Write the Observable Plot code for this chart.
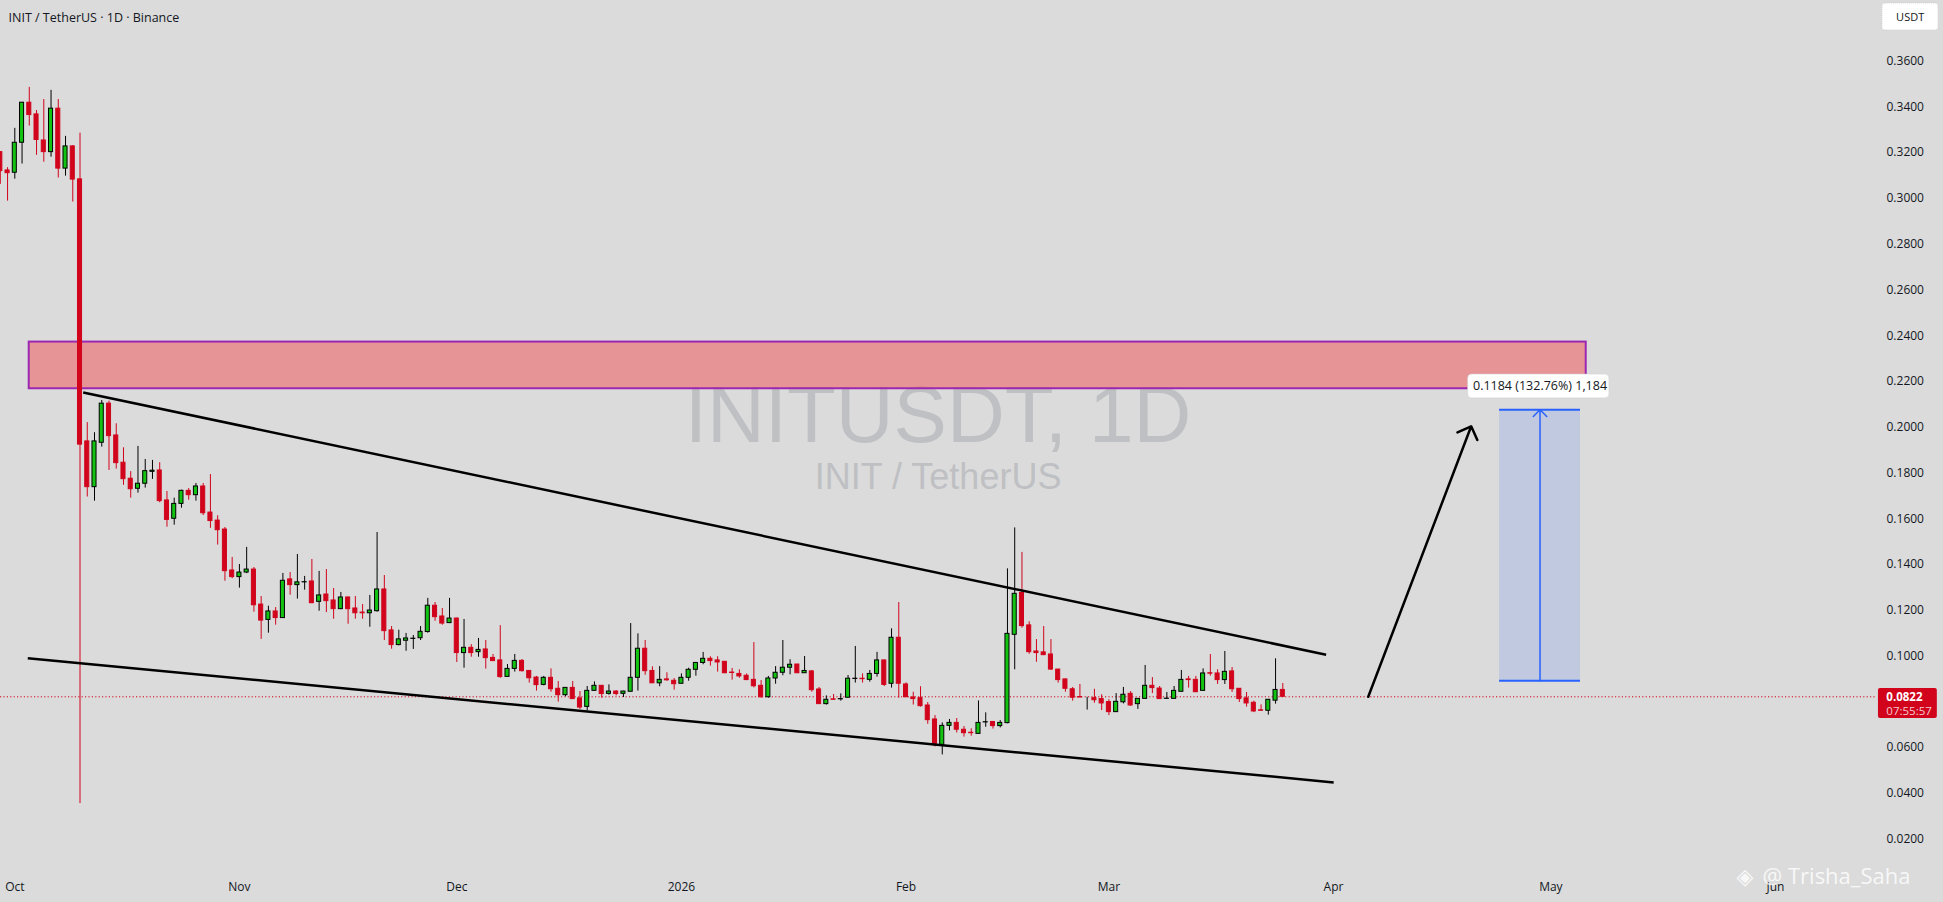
<!DOCTYPE html>
<html><head><meta charset="utf-8">
<script src="https://cdn.jsdelivr.net/npm/d3@7"></script>
<script src="https://cdn.jsdelivr.net/npm/@observablehq/plot@0.6"></script>
<style>
html,body{margin:0;padding:0;background:#dbdbdb;}
#chart{width:1943px;height:902px;overflow:hidden;}
</style></head><body><div id="chart"></div>
<script>
// ---------- data ----------
const dates = [
"2025-09-29","2025-09-30",
"2025-10-01","2025-10-02","2025-10-03","2025-10-04","2025-10-05","2025-10-06","2025-10-07","2025-10-08","2025-10-09","2025-10-10",
"2025-10-11","2025-10-12","2025-10-13","2025-10-14","2025-10-15","2025-10-16","2025-10-17","2025-10-18","2025-10-19","2025-10-20",
"2025-10-21","2025-10-22","2025-10-23","2025-10-24","2025-10-25","2025-10-26","2025-10-27","2025-10-28","2025-10-29","2025-10-30","2025-10-31",
"2025-11-01","2025-11-02","2025-11-03","2025-11-04","2025-11-05","2025-11-06","2025-11-07","2025-11-08","2025-11-09","2025-11-10",
"2025-11-11","2025-11-12","2025-11-13","2025-11-14","2025-11-15","2025-11-16","2025-11-17","2025-11-18","2025-11-19","2025-11-20",
"2025-11-21","2025-11-22","2025-11-23","2025-11-24","2025-11-25","2025-11-26","2025-11-27","2025-11-28","2025-11-29","2025-11-30",
"2025-12-01","2025-12-02","2025-12-03","2025-12-04","2025-12-05","2025-12-06","2025-12-07","2025-12-08","2025-12-09","2025-12-10",
"2025-12-11","2025-12-12","2025-12-13","2025-12-14","2025-12-15","2025-12-16","2025-12-17","2025-12-18","2025-12-19","2025-12-20",
"2025-12-21","2025-12-22","2025-12-23","2025-12-24","2025-12-25","2025-12-26","2025-12-27","2025-12-28","2025-12-29","2025-12-30","2025-12-31",
"2026-01-01","2026-01-02","2026-01-03","2026-01-04","2026-01-05","2026-01-06","2026-01-07","2026-01-08","2026-01-09","2026-01-10",
"2026-01-11","2026-01-12","2026-01-13","2026-01-14","2026-01-15","2026-01-16","2026-01-17","2026-01-18","2026-01-19","2026-01-20",
"2026-01-21","2026-01-22","2026-01-23","2026-01-24","2026-01-25","2026-01-26","2026-01-27","2026-01-28","2026-01-29","2026-01-30","2026-01-31",
"2026-02-01","2026-02-02","2026-02-03","2026-02-04","2026-02-05","2026-02-06","2026-02-07","2026-02-08","2026-02-09","2026-02-10",
"2026-02-11","2026-02-12","2026-02-13","2026-02-14","2026-02-15","2026-02-16","2026-02-17","2026-02-18","2026-02-19","2026-02-20",
"2026-02-21","2026-02-22","2026-02-23","2026-02-24","2026-02-25","2026-02-26","2026-02-27","2026-02-28",
"2026-03-01","2026-03-02","2026-03-03","2026-03-04","2026-03-05","2026-03-06","2026-03-07","2026-03-08","2026-03-09","2026-03-10",
"2026-03-11","2026-03-12","2026-03-13","2026-03-14","2026-03-15","2026-03-16","2026-03-17","2026-03-18","2026-03-19","2026-03-20",
"2026-03-21","2026-03-22","2026-03-23","2026-03-24","2026-03-25"
];
const opens = [
0.3202,0.3122,
0.3112,0.3243,0.3418,0.3367,0.3253,0.3202,0.3392,0.3130,0.3227,0.3083,0.1938,0.1738,0.1932,0.2103,0.1964,0.1845,0.1775,0.1731,0.1753,0.1805,0.1811,0.1680,0.1600,0.1665,0.1722,0.1703,0.1741,0.1627,0.1592,0.1553,0.1374,
0.1345,0.1365,0.1378,0.1225,0.1158,0.1195,0.1166,0.1335,0.1310,0.1322,0.1326,0.1237,0.1269,0.1243,0.1205,0.1256,0.1208,0.1190,0.1187,0.1196,0.1291,0.1112,0.1048,0.1067,0.1075,0.1078,0.1105,0.1220,0.1173,0.1144,
0.1164,0.1013,0.1036,0.1017,0.1029,0.0992,0.0981,0.0909,0.0944,0.0979,0.0935,0.0906,0.0874,0.0905,0.0857,0.0829,0.0861,0.0815,0.0778,0.0848,0.0870,0.0835,0.0845,0.0835,0.0844,0.0905,0.1032,0.0935,0.0881,0.0898,0.0892,
0.0879,0.0905,0.0940,0.0970,0.0988,0.0981,0.0975,0.0928,0.0922,0.0914,0.0896,0.0870,0.0820,0.0902,0.0927,0.0949,0.0963,0.0925,0.0933,0.0854,0.0790,0.0811,0.0811,0.0818,0.0900,0.0901,0.0896,0.0922,0.0981,0.0879,0.1080,
0.0876,0.0819,0.0816,0.0784,0.0723,0.0612,0.0695,0.0708,0.0678,0.0665,0.0660,0.0710,0.0712,0.0694,0.0707,0.1093,0.1276,0.1134,0.1020,0.1016,0.1007,0.0941,0.0898,0.0855,0.0821,0.0819,0.0816,0.0812,
0.0799,0.0755,0.0798,0.0835,0.0790,0.0813,0.0870,0.0858,0.0813,0.0813,0.0844,0.0898,0.0896,0.0848,0.0925,0.0924,0.0895,0.0933,0.0857,0.0815,0.0796,0.0763,0.0761,0.0805,0.0852
];
const highs = [
0.3204,0.3134,
0.3306,0.3418,0.3485,0.3384,0.3432,0.3472,0.3432,0.3271,0.3231,0.3285,0.2020,0.1976,0.2117,0.2114,0.2015,0.1910,0.1806,0.1916,0.1859,0.1855,0.1845,0.1719,0.1690,0.1725,0.1732,0.1754,0.1754,0.1793,0.1613,0.1562,0.1431,
0.1400,0.1475,0.1387,0.1260,0.1218,0.1212,0.1361,0.1365,0.1444,0.1348,0.1422,0.1370,0.1378,0.1295,0.1278,0.1258,0.1260,0.1225,0.1265,0.1540,0.1352,0.1129,0.1113,0.1099,0.1090,0.1129,0.1252,0.1234,0.1208,0.1252,
0.1166,0.1160,0.1050,0.1077,0.1068,0.1007,0.1133,0.0963,0.1007,0.0985,0.0937,0.0911,0.0911,0.0944,0.0889,0.0862,0.0889,0.0845,0.0867,0.0887,0.0871,0.0874,0.0849,0.0846,0.1142,0.1097,0.1068,0.0953,0.0954,0.0927,0.0902,
0.0922,0.0947,0.0972,0.1016,0.0997,0.0997,0.0976,0.0946,0.0940,0.0922,0.1059,0.0893,0.0911,0.0954,0.1068,0.0984,0.0964,0.0998,0.0937,0.0863,0.0826,0.0832,0.0835,0.0915,0.1042,0.0922,0.0937,0.1016,0.0982,0.1119,0.1234,
0.0883,0.0842,0.0866,0.0797,0.0740,0.0708,0.0723,0.0727,0.0692,0.0682,0.0804,0.0752,0.0713,0.0718,0.1381,0.1560,0.1453,0.1150,0.1072,0.1129,0.1072,0.0942,0.0899,0.0863,0.0876,0.0820,0.0855,0.0831,
0.0809,0.0836,0.0863,0.0845,0.0814,0.0959,0.0906,0.0867,0.0841,0.0867,0.0937,0.0911,0.0911,0.0944,0.1007,0.0940,0.1020,0.0950,0.0858,0.0841,0.0803,0.0787,0.0810,0.0988,0.0880
];
const lows = [
0.3061,0.2988,
0.3084,0.3150,0.3316,0.3188,0.3158,0.3180,0.3089,0.3097,0.2984,0.0355,0.1695,0.1677,0.1913,0.1811,0.1817,0.1746,0.1690,0.1712,0.1734,0.1772,0.1670,0.1563,0.1572,0.1646,0.1681,0.1677,0.1614,0.1558,0.1485,0.1327,0.1338,
0.1297,0.1360,0.1192,0.1073,0.1100,0.1135,0.1164,0.1266,0.1249,0.1288,0.1229,0.1196,0.1190,0.1161,0.1203,0.1139,0.1161,0.1161,0.1126,0.1192,0.1068,0.1030,0.1045,0.1021,0.1029,0.1068,0.1100,0.1152,0.1135,0.1142,
0.0972,0.0947,0.0995,0.0995,0.0943,0.0976,0.0903,0.0907,0.0930,0.0930,0.0882,0.0847,0.0870,0.0842,0.0799,0.0822,0.0810,0.0766,0.0761,0.0846,0.0816,0.0829,0.0826,0.0819,0.0843,0.0847,0.0916,0.0880,0.0866,0.0890,0.0851,
0.0878,0.0890,0.0912,0.0962,0.0956,0.0930,0.0923,0.0895,0.0903,0.0893,0.0861,0.0816,0.0816,0.0877,0.0914,0.0918,0.0924,0.0924,0.0842,0.0789,0.0786,0.0808,0.0803,0.0817,0.0882,0.0882,0.0886,0.0908,0.0867,0.0860,0.0816,
0.0819,0.0786,0.0777,0.0702,0.0603,0.0568,0.0673,0.0664,0.0646,0.0650,0.0659,0.0689,0.0681,0.0686,0.0704,0.0940,0.1122,0.1008,0.0973,0.1002,0.0937,0.0882,0.0842,0.0803,0.0818,0.0764,0.0794,0.0762,
0.0740,0.0754,0.0791,0.0780,0.0767,0.0812,0.0836,0.0811,0.0812,0.0812,0.0843,0.0860,0.0841,0.0847,0.0912,0.0876,0.0876,0.0841,0.0797,0.0777,0.0753,0.0760,0.0742,0.0790,0.0821
];
const closes = [
0.3119,0.3110,
0.3243,0.3418,0.3364,0.3255,0.3202,0.3392,0.3130,0.3227,0.3082,0.1924,0.1738,0.1938,0.2103,0.1961,0.1843,0.1773,0.1729,0.1753,0.1808,0.1810,0.1677,0.1595,0.1665,0.1722,0.1703,0.1741,0.1624,0.1590,0.1550,0.1371,0.1345,
0.1365,0.1378,0.1222,0.1155,0.1195,0.1166,0.1329,0.1310,0.1322,0.1323,0.1231,0.1265,0.1240,0.1205,0.1256,0.1205,0.1187,0.1187,0.1199,0.1291,0.1109,0.1048,0.1073,0.1077,0.1076,0.1106,0.1220,0.1170,0.1142,0.1164,
0.1013,0.1036,0.1013,0.1027,0.0991,0.0978,0.0908,0.0944,0.0979,0.0934,0.0903,0.0873,0.0905,0.0855,0.0829,0.0861,0.0812,0.0775,0.0848,0.0870,0.0834,0.0845,0.0834,0.0845,0.0905,0.1032,0.0934,0.0881,0.0896,0.0894,0.0877,
0.0905,0.0940,0.0970,0.0988,0.0978,0.0972,0.0925,0.0926,0.0911,0.0895,0.0868,0.0820,0.0902,0.0927,0.0949,0.0962,0.0925,0.0935,0.0851,0.0790,0.0809,0.0809,0.0812,0.0901,0.0901,0.0899,0.0922,0.0981,0.0874,0.1080,0.0879,
0.0820,0.0812,0.0781,0.0720,0.0610,0.0695,0.0708,0.0678,0.0663,0.0663,0.0708,0.0711,0.0694,0.0708,0.1097,0.1272,0.1131,0.1017,0.1013,0.1004,0.0941,0.0895,0.0857,0.0818,0.0819,0.0819,0.0807,0.0793,
0.0755,0.0800,0.0831,0.0784,0.0813,0.0870,0.0860,0.0812,0.0814,0.0848,0.0896,0.0895,0.0842,0.0924,0.0923,0.0895,0.0931,0.0855,0.0812,0.0793,0.0758,0.0761,0.0809,0.0852,0.0822
];

const priceTicks = [0.02,0.04,0.06,0.08,0.10,0.12,0.14,0.16,0.18,0.20,0.22,0.24,0.26,0.28,0.30,0.32,0.34,0.36];
const monthTicks = ["2025-10-01","2025-11-01","2025-12-01","2026-01-01","2026-02-01","2026-03-01","2026-04-01","2026-05-01","2026-06-01"];
const monthLabels = ["Oct","Nov","Dec","2026","Feb","Mar","Apr","May","Jun"];

const lastPrice = 0.0822;
const lastPriceText = ["0.0822", "07:55:57"];
const titleText = "INIT / TetherUS · 1D · Binance";
const watermarkMain = "INITUSDT, 1D";
const watermarkSub = "INIT / TetherUS";

// drawings (time / price anchors)
const zone = {start: "2025-10-02T23:45Z", end: "2026-05-05T21:00Z", low: 0.2168, high: 0.2372};
const trendLines = [
  {x1: "2025-10-10T10:30Z", y1: 0.2152, x2: "2026-03-30T23:30Z", y2: 0.1006},
  {x1: "2025-10-02T19:00Z", y1: 0.0990, x2: "2026-04-01T00:30Z", y2: 0.0448}
];
const bigArrow = {x1: "2026-04-05T19:00Z", y1: 0.0822, x2: "2026-04-20T00:00Z", y2: 0.2004};
const range = {start: "2026-04-23T22:00Z", end: "2026-05-05T02:00Z", mid: "2026-04-29T12:00Z", low: 0.0892, high: 0.2076};
const rangeLabel = {text: "0.1184 (132.76%) 1,184", x1: "2026-04-19T14:00Z", x2: "2026-05-09T02:00Z", y1: 0.2126, y2: 0.2230, y: 0.2178};
const watermarkPos = {x: "2026-02-05T10:00Z", yMain: 0.1937, ySub: 0.1730};
const priceTag = {x1: "2026-06-15T05:00Z", x2: "2026-06-23T08:00Z", y1: 0.0727, y2: 0.0858, xText: "2026-06-16T07:00Z", yText1: 0.0803, yText2: 0.0741};
const unitBox = {text: "USDT", x1: "2026-06-15T18:00Z", x2: "2026-06-23T12:00Z", y1: 0.37335, y2: 0.38515, x: "2026-06-19T14:00Z", y: 0.37925};
const author = {text: "@ Trisha_Saha", x: "2026-05-30T05:00Z", logoX: "2026-05-27T19:00Z", y: 0.0003};

// ---------- build ----------
const DAY = 864e5;
const T = s => new Date(s);
const RED = "#d1041c", GREEN = "#12c312", BG = "#dbdbdb", BLUE = "#2962ff";
const candles = dates.map((d, i) => ({
  date: new Date(d + "T00:00Z"), open: opens[i], high: highs[i], low: lows[i], close: closes[i],
  up: closes[i] >= opens[i]
}));
const upC = candles.filter(c => c.up), dnC = candles.filter(c => !c.up);
const half = 0.28 * DAY;
const monthMap = new Map(monthTicks.map((d, i) => [+new Date(d + "T00:00Z"), monthLabels[i]]));
const t0 = Date.UTC(2025, 9, 1);

const chart = Plot.plot({
  width: 1943, height: 902,
  marginTop: 0, marginRight: 68, marginBottom: 32, marginLeft: 0,
  style: {background: BG, fontFamily: "'Open Sans', sans-serif", fontSize: "12px", color: "#131722", overflow: "visible"},
  x: {type: "utc", domain: [new Date(t0 - 1.974 * DAY), new Date(t0 + 256.8 * DAY)]},
  y: {domain: [0.0063, 0.38646]},
  marks: [
    // watermark
    Plot.text([watermarkMain], {x: T(watermarkPos.x), y: watermarkPos.yMain, text: d => d, fontFamily: "'Liberation Sans', Arial, sans-serif", fontSize: 80, fill: "#bfc0c3", textAnchor: "middle", lineAnchor: "bottom"}),
    Plot.text([watermarkSub], {x: T(watermarkPos.x), y: watermarkPos.ySub, text: d => d, fontFamily: "'Liberation Sans', Arial, sans-serif", fontSize: 36, fill: "#bfc0c3", textAnchor: "middle", lineAnchor: "bottom"}),
    // zone
    Plot.rect([zone], {x1: d => T(d.start), x2: d => T(d.end), y1: "low", y2: "high", fill: "rgb(255,5,15)", fillOpacity: 0.335, stroke: "#9c27b0", strokeWidth: 2}),
    // last price line
    Plot.ruleY([lastPrice], {stroke: RED, strokeWidth: 1, strokeDasharray: "1.2,2.2"}),
    // candles
    Plot.ruleX(dnC, {x: "date", y1: "low", y2: "high", stroke: RED, strokeWidth: 1}),
    Plot.ruleX(upC, {x: "date", y1: "low", y2: "high", stroke: "#000", strokeWidth: 1}),
    Plot.rect(dnC, {x1: c => new Date(+c.date - half), x2: c => new Date(+c.date + half), y1: "open", y2: "close", fill: RED, stroke: RED, strokeWidth: 1}),
    Plot.rect(upC, {x1: c => new Date(+c.date - half), x2: c => new Date(+c.date + half), y1: "open", y2: "close", fill: GREEN, stroke: "#000", strokeWidth: 1}),
    // trend lines
    Plot.link(trendLines, {x1: d => T(d.x1), y1: "y1", x2: d => T(d.x2), y2: "y2", stroke: "#000", strokeWidth: 2.5}),
    // arrow
    Plot.arrow([bigArrow], {x1: d => T(d.x1), y1: "y1", x2: d => T(d.x2), y2: "y2", stroke: "#000", strokeWidth: 2.5, headAngle: 90, headLength: 9}),
    // range tool
    Plot.rect([range], {x1: d => T(d.start), x2: d => T(d.end), y1: "low", y2: "high", fill: BLUE, fillOpacity: 0.15}),
    Plot.ruleY([range.low, range.high], {x1: T(range.start), x2: T(range.end), stroke: BLUE, strokeWidth: 2}),
    Plot.arrow([range], {x1: d => T(d.mid), x2: d => T(d.mid), y1: "low", y2: "high", stroke: BLUE, strokeWidth: 1.5, headAngle: 90, headLength: 9.5}),
    Plot.rect([rangeLabel], {x1: d => T(d.x1), x2: d => T(d.x2), y1: "y1", y2: "y2", fill: "#ffffff", stroke: "#d4d4d4", strokeWidth: 0.6, rx: 4}),
    Plot.text([rangeLabel], {x: d => T(range.mid), y: "y", text: "text", fill: "#131722", fontSize: 12.5, lineAnchor: "middle"}),
    // axes
    Plot.axisY({anchor: "right", ticks: priceTicks, tickFormat: d3.format(".4f"), tickSize: 0, tickPadding: 11, label: null}),
    Plot.axisX({ticks: monthTicks.map(d => new Date(d + "T00:00Z")), tickFormat: d => monthMap.get(+d), tickSize: 0, tickPadding: 12, label: null}),
    // price tag
    Plot.rect([priceTag], {x1: d => T(d.x1), x2: d => T(d.x2), y1: "y1", y2: "y2", fill: RED, rx: 2}),
    Plot.text([lastPriceText[0]], {x: T(priceTag.xText), y: priceTag.yText1, text: d => d, fill: "#ffffff", fontWeight: "bold", fontSize: 11.5, textAnchor: "start", lineAnchor: "bottom"}),
    Plot.text([lastPriceText[1]], {x: T(priceTag.xText), y: priceTag.yText2, text: d => d, fill: "#f6c9cf", fontSize: 11.5, textAnchor: "start", lineAnchor: "bottom"}),
    // unit box
    Plot.rect([unitBox], {x1: d => T(d.x1), x2: d => T(d.x2), y1: "y1", y2: "y2", fill: "#ffffff", stroke: "#cfcfcf", strokeWidth: 1, strokeDasharray: "1,1", rx: 3}),
    Plot.text([unitBox], {x: d => T(d.x), y: "y", text: "text", fill: "#131722", fontSize: 11, lineAnchor: "middle"}),
    // title
    Plot.text([titleText], {frameAnchor: "top-left", text: d => d, dx: 8, dy: 21, textAnchor: "start", lineAnchor: "bottom", fontSize: 12.5, fill: "#131722"}),
    // author watermark
    Plot.text(["◈"], {x: T(author.logoX), y: author.y, text: d => d, fontFamily: "'DejaVu Sans'", fontSize: 22, fill: "rgba(255,255,255,0.8)", lineAnchor: "bottom"}),
    Plot.text([author.text], {x: T(author.x), y: author.y, text: d => d, fontFamily: "'Open Sans', sans-serif", fontSize: 22, fill: "rgba(255,255,255,0.8)", textAnchor: "start", lineAnchor: "bottom"})
  ]
});
document.getElementById("chart").append(chart);
</script>
</body></html>
